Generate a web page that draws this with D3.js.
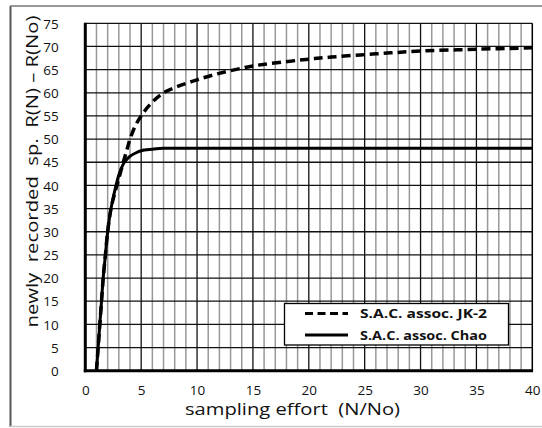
<!DOCTYPE html>
<html><head><meta charset="utf-8">
<script src="https://cdn.jsdelivr.net/npm/d3@7"></script>
<style>body{margin:0;background:#fff}svg{display:block}</style>
</head><body>
<svg id="c" width="542" height="428"></svg>
<script>
const xTicks = [0,5,10,15,20,25,30,35,40];
const yTicks = [0,5,10,15,20,25,30,35,40,45,50,55,60,65,70,75];
const effortJK = [1,1.15,1.3,1.45,1.6,1.8,2.0,2.3,2.6,3.0,3.4,3.7,4.0,4.5,5,5.8,7,8.2,10,12,14,15,19,22,26,30,35,40];
const valuesJK = [0,5,10,15,20,25,30,35,38,41.5,45,47.5,50,53,55,57.5,60,61.3,62.8,64.2,65.3,65.8,67,67.7,68.4,69,69.4,69.7];
const effortChao = [1,1.15,1.3,1.45,1.6,1.8,2.0,2.3,2.75,3.05,3.5,4.0,4.5,5,6,7,10,20,40];
const valuesChao = [0,5,10,15,20,25,30,35,40,42.6,45,46.3,47,47.5,47.8,48,48,48,48];
const seriesNames = ["S.A.C. assoc. JK-2","S.A.C. assoc. Chao"];

const svg = d3.select("#c");
const font = "'Open Sans', sans-serif";
const L=85.3, R=532.3, T=23.3, B=370.7;
const x = d3.scaleLinear().domain([0,40]).range([L,R]);
const y = d3.scaleLinear().domain([0,75]).range([B,T]);

// outer frame
svg.append("line").attr("x1",10.5).attr("x2",10.5).attr("y1",6).attr("y2",427).attr("stroke","#555").attr("stroke-width",2);
svg.append("line").attr("x1",10).attr("x2",542).attr("y1",6).attr("y2",6).attr("stroke","#777").attr("stroke-width",1.5);
svg.append("line").attr("x1",10).attr("x2",542).attr("y1",426.5).attr("y2",426.5).attr("stroke","#ccc").attr("stroke-width",1.5);

const g = svg.append("g");
g.selectAll(".vm").data(d3.range(1,40).filter(d=>d%5)).enter().append("line")
 .attr("x1",d=>x(d)).attr("x2",d=>x(d)).attr("y1",T).attr("y2",B)
 .attr("stroke","#999").attr("stroke-width",1.5);
g.selectAll(".vM").data(xTicks.slice(1,-1)).enter().append("line")
 .attr("x1",d=>x(d)).attr("x2",d=>x(d)).attr("y1",T).attr("y2",B)
 .attr("stroke","#111").attr("stroke-width",1.3);
g.selectAll(".h").data(yTicks.slice(1)).enter().append("line")
 .attr("x1",L).attr("x2",R).attr("y1",d=>y(d)).attr("y2",d=>y(d))
 .attr("stroke","#111").attr("stroke-width",1.3);
g.append("line").attr("x1",R).attr("x2",R).attr("y1",T).attr("y2",B).attr("stroke","#000").attr("stroke-width",1.5);

const xAxis = d3.axisBottom(x).tickValues(xTicks).tickSize(0).tickPadding(0);
const gx = svg.append("g").attr("transform",`translate(0,${B})`).call(xAxis);
gx.select(".domain").remove();
gx.selectAll("text").attr("y",24).attr("dy",0).attr("font-family",font).attr("font-size",13.5).attr("fill","#111");
const yAxis = d3.axisLeft(y).tickValues(yTicks).tickSize(0).tickPadding(0);
const gy = svg.append("g").attr("transform",`translate(${L},0)`).call(yAxis);
gy.select(".domain").remove();
gy.selectAll("text").attr("x",-26.5).attr("dy","0.35em").attr("font-family",font).attr("font-size",13.5).attr("fill","#111");

svg.append("line").attr("x1",L).attr("x2",L).attr("y1",T-0.5).attr("y2",B+1.5).attr("stroke","#000").attr("stroke-width",3);
svg.append("line").attr("x1",L-1.5).attr("x2",R+0.75).attr("y1",B).attr("y2",B).attr("stroke","#000").attr("stroke-width",3);

const line = d3.line().x(d=>x(d[0])).y(d=>y(d[1])).curve(d3.curveCatmullRom.alpha(0.5));
const jk = effortJK.map((e,i)=>[e,valuesJK[i]]);
const ch = effortChao.map((e,i)=>[e,valuesChao[i]]);
svg.append("path").attr("d",line(ch)).attr("fill","none").attr("stroke","#000").attr("stroke-width",3);
svg.append("path").attr("d",line(jk)).attr("fill","none").attr("stroke","#000").attr("stroke-width",3.5).attr("stroke-dasharray","9,5");

const lg = svg.append("g");
lg.append("rect").attr("x",284.5).attr("y",303.5).attr("width",224).attr("height",41.5).attr("fill","#fff").attr("stroke","#000").attr("stroke-width",1.3);
const legY=[313.5,335];
lg.selectAll(".ll").data(seriesNames).enter().append("line")
 .attr("x1",305).attr("x2",348).attr("y1",(d,i)=>legY[i]).attr("y2",(d,i)=>legY[i])
 .attr("stroke","#000").attr("stroke-width",3).attr("stroke-dasharray",(d,i)=>i===0?"8,4.5":null);
lg.selectAll(".lt").data(seriesNames).enter().append("text")
 .attr("x",360).attr("y",(d,i)=>legY[i]).attr("dy","0.35em")
 .attr("font-family",font).attr("font-weight","bold").attr("font-size",13)
 .attr("textLength",127).attr("lengthAdjust","spacingAndGlyphs")
 .attr("fill","#111").text(d=>d);

svg.append("text").attr("x",292.5).attr("y",415).attr("text-anchor","middle")
 .attr("font-family",font).attr("font-size",15.5).attr("fill","#111")
 .attr("textLength",215).attr("lengthAdjust","spacingAndGlyphs")
 .style("white-space","pre").text("sampling effort  (N/No)");
svg.append("text").attr("transform","translate(38,171.5) rotate(-90)").attr("text-anchor","middle")
 .attr("font-family",font).attr("font-size",16.5).attr("fill","#111")
 .attr("textLength",312).attr("lengthAdjust","spacingAndGlyphs")
 .style("white-space","pre").text("newly  recorded  sp.  R(N) \u2013 R(No)");
</script>
</body></html>
